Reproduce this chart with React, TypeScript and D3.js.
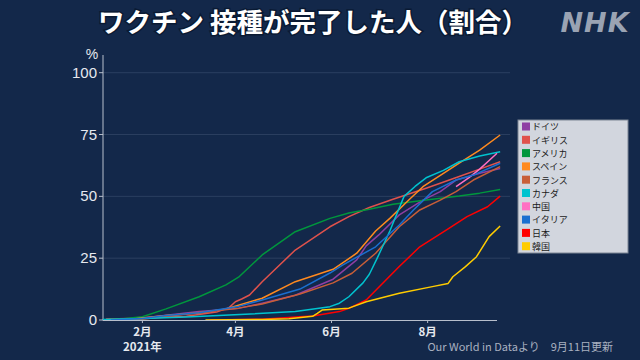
import React from "react";
import * as d3 from "d3";

const countries = ["ドイツ", "イギリス", "アメリカ", "スペイン", "フランス", "カナダ", "中国", "イタリア", "日本", "韓国"];
const colors = ["#8e3fa3", "#e0524c", "#00973d", "#ff8a1f", "#c85e38", "#00c3cf", "#ff6fc3", "#1a6fd0", "#ff0000", "#ffcc00"];

const germany: [string, number][] = [["01-12",0],["02-01",0.8],["03-09",3.4],["04-03",4.7],["04-18",6.8],["05-09",10],["06-02",16.5],["06-17",24.3],["06-23",30],["07-01",34.4],["07-14",42.5],["07-29",48.5],["08-09",51.9],["08-19",56.6],["09-03",59.3],["09-16",61.3]];
const uk: [string, number][] = [["01-09",0.4],["02-01",0.7],["03-01",1.5],["03-20",3.2],["03-28",5],["04-01",7.4],["04-05",8.5],["04-10",10.1],["04-18",15.5],["05-09",28.3],["05-31",37.7],["06-12",41.8],["06-25",45.5],["07-10",48.8],["07-31",53.3],["08-21",58],["09-03",61],["09-16",64]];
const us: [string, number][] = [["01-09",0.1],["01-20",0.5],["02-01",1.3],["02-16",4.5],["03-09",9.4],["03-26",14.2],["04-03",17.3],["04-18",26.3],["05-09",35.7],["05-31",41.1],["06-12",43.3],["06-25",44.8],["07-10",46.8],["07-31",48.5],["08-21",50.1],["09-03",51.3],["09-16",52.8]];
const spain: [string, number][] = [["01-09",0],["01-25",0.3],["02-01",0.8],["02-16",1.8],["03-09",2.8],["03-26",4.5],["04-03",6],["04-18",8.8],["05-09",15.5],["06-02",20.5],["06-17",27],["06-29",36],["07-08",41.1],["07-20",48.5],["07-29",53.9],["08-11",59.3],["08-21",63.4],["09-03",68.7],["09-16",74.8]];
const france: [string, number][] = [["01-10",0],["02-01",0.3],["02-16",1.5],["03-09",3],["04-03",4.8],["04-18",6.5],["05-12",10.5],["06-02",15],["06-14",18.9],["06-29",27],["07-14",37.7],["07-27",44.5],["08-09",48.5],["08-19",51.9],["08-30",56.6],["09-16",62]];
const canada: [string, number][] = [["01-07",0.2],["02-01",0.6],["03-01",1.2],["03-28",2],["05-09",3.4],["05-31",5.4],["06-06",6.8],["06-12",9.4],["06-21",15],["06-25",18.5],["06-30",25],["07-08",36],["07-17",50],["07-24",54],["07-31",57.5],["08-11",60.5],["08-21",64],["09-03",66.3],["09-16",68]];
const china: [string, number][] = [["08-19",53.9],["08-27",57.5],["09-03",61],["09-09",64.5],["09-14",67.4]];
const italy: [string, number][] = [["01-12",0],["02-01",0.6],["02-16",1.8],["03-09",2.9],["04-03",5.5],["04-18",8.1],["05-12",12.5],["05-31",19],["06-08",22.2],["06-29",29.6],["07-14",38.4],["07-23",44.5],["08-04",51.9],["08-19",56.6],["08-30",58.6],["09-16",63.4]];
const japan: [string, number][] = [["03-16",0],["04-18",0.3],["05-12",1.3],["05-20",1.6],["06-06",3.4],["06-12",4.7],["06-23",8.1],["07-14",21.6],["07-27",29.6],["08-13",36.4],["08-26",41.8],["09-08",45.8],["09-16",50.1]];
const korea: [string, number][] = [["03-13",0],["04-18",0.2],["05-05",0.5],["05-20",1.5],["05-23",2.7],["05-26",4],["06-12",4.8],["06-23",7.4],["07-14",10.8],["08-04",13.5],["08-14",14.8],["08-17",17.5],["08-25",21.6],["09-01",25.6],["09-09",33.7],["09-16",38]];

const seriesData = [germany, uk, us, spain, france, canada, china, italy, japan, korea];

const yTicks = [0, 25, 50, 75, 100];
const xTickDates = ["02-01", "04-01", "06-01", "08-01"];
const xTickLabels = ["2月", "4月", "6月", "8月"];

const W = 640, H = 360;
const BG = "#13284a";
const JP = "'Noto Sans CJK JP', 'Noto Sans', sans-serif";

const parse = d3.timeParse("%Y-%m-%d");
const pd = (s: string) => parse("2021-" + s) as Date;

export default function App() {
  const x = d3.scaleTime().domain([pd("01-07"), pd("09-14")]).range([103, 497]);
  const y = d3.scaleLinear().domain([0, 100]).range([320, 72.7]);
  const line = d3.line<[string, number]>().x(d => x(pd(d[0]))).y(d => y(d[1]));

  const legX = 518, legY = 120, legW = 110, legH = 133, rowH = 13.3;

  return (
    <svg width={W} height={H} style={{ position: "absolute", left: 0, top: 0, display: "block" }} xmlns="http://www.w3.org/2000/svg">
      <rect x={0} y={0} width={W} height={H} fill={BG} />
      {/* Title */}
      <text x={313} y={32} textAnchor="middle" fontFamily={JP} fontWeight={700} fontSize={26.5} fill="#ffffff" stroke="#0a1a33" strokeWidth={3} style={{ paintOrder: "stroke" }}>ワクチン 接種が完了した人（割合）</text>
      {/* NHK logo */}
      <text x={595} y={32} textAnchor="middle" fontFamily="'DejaVu Sans', sans-serif" fontWeight={700} fontStyle="italic" fontSize={27} fill="#9aa3b3" letterSpacing={1}>NHK</text>

      {/* Gridlines */}
      {yTicks.filter(t => t > 0).map(t => (
        <line key={"g" + t} x1={103} x2={510} y1={y(t)} y2={y(t)} stroke="#2b3f60" strokeWidth={1} />
      ))}
      {/* Y axis */}
      <line x1={103} x2={103} y1={55} y2={320.5} stroke="#b8bfcc" strokeWidth={1} />
      {yTicks.map(t => (
        <g key={"y" + t}>
          <line x1={99} x2={103} y1={y(t)} y2={y(t)} stroke="#b8bfcc" strokeWidth={1} />
          <text x={97} y={y(t) + 5} textAnchor="end" fontFamily="'Liberation Sans', Arial, sans-serif" fontSize={15} fill="#e6e9ef">{t}</text>
        </g>
      ))}
      <text x={92} y={59} textAnchor="middle" fontFamily="'Liberation Sans', Arial, sans-serif" fontSize={14} fill="#e6e9ef">%</text>

      {/* Series */}
      {seriesData.map((s, i) => (
        <path key={countries[i]} d={line(s) || ""} fill="none" stroke={colors[i]} strokeWidth={1.5} strokeLinejoin="round" />
      ))}

      {/* X axis */}
      <line x1={103} x2={497} y1={320.5} y2={320.5} stroke="#b8bfcc" strokeWidth={1.2} />
      {xTickDates.map((d, i) => (
        <g key={"x" + d}>
          <line x1={x(pd(d))} x2={x(pd(d))} y1={320.5} y2={323} stroke="#b8bfcc" strokeWidth={1} />
          <text x={x(pd(d))} y={336} textAnchor="middle" fontFamily={JP} fontWeight={700} fontSize={11.5} fill="#e6e9ef">{xTickLabels[i]}</text>
        </g>
      ))}
      <text x={x(pd("02-01"))} y={351} textAnchor="middle" fontFamily={JP} fontWeight={700} fontSize={11.5} fill="#e6e9ef">2021年</text>

      {/* Source */}
      <text x={613} y={351} textAnchor="end" fontFamily={JP} fontSize={11} fill="#a9b1c0">Our World in Dataより　9月11日更新</text>

      {/* Legend */}
      <rect x={legX} y={legY} width={legW} height={legH} fill="#d2d6de" stroke="#7d8594" strokeWidth={1} />
      {countries.map((c, i) => (
        <g key={"l" + c}>
          <rect x={legX + 4} y={legY + 2.5 + i * rowH} width={8} height={8} fill={colors[i]} />
          <text x={legX + 14} y={legY + 10.3 + i * rowH} fontFamily={JP} fontSize={9} fill="#1a1a1a">{c}</text>
        </g>
      ))}
    </svg>
  );
}
